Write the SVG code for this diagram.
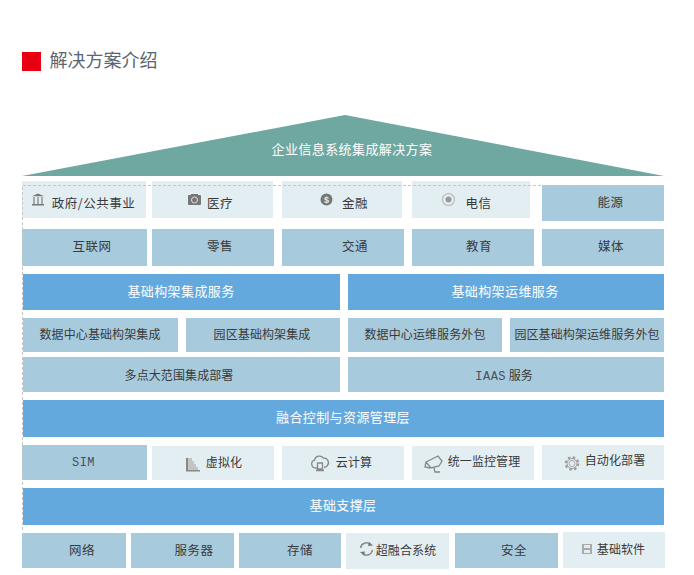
<svg xmlns="http://www.w3.org/2000/svg" width="694" height="575" viewBox="0 0 694 575">
<style>
text{font-family:"Noto Sans CJK SC","Liberation Sans",sans-serif;font-size:12px;fill:#3a3a3a;text-anchor:middle}
.m{fill:#a8cadd}.p{fill:#e3eef3}.b{fill:#63a9dd}
.w{fill:#fff;font-size:13px;letter-spacing:.4px}
.t{font-size:12px;letter-spacing:.1px}
.n{font-size:12.5px;letter-spacing:.5px}
.c{font-family:"Liberation Mono",monospace;font-size:12px;fill:#4a4f58;letter-spacing:.5px}
.i{fill:none;stroke:#888;stroke-width:1.3}
.f{fill:#777}
.d{fill:none;stroke:#c6c6c6;stroke-dasharray:3 2}
</style>
<rect x="22" y="52" width="19" height="19" fill="#e60012"/>
<text x="103.500" y="67" style="font-size:18px;fill:#5a6670;font-family:'Noto Sans CJK SC',sans-serif">解决方案介绍</text>
<g id="top"><polygon points="22,176 345,115 664,176" fill="#6fa8a0"/><text class="w" x="352" y="154">企业信息系统集成解决方案</text></g>
<g id="n-gov"><rect class="p" x="22" y="181" width="124" height="37"/><path class="f" d="M38 193.500l6 2.700h-12zM32 204h12v1.500h-12z"/><path class="i" d="M34 197v7M38 197v7M42 197v7"/><text class="n" x="93.500" y="208">政府/公共事业</text></g>
<g id="n-med"><rect class="p" x="152" y="181" width="121" height="37"/><rect class="f" x="188" y="195" width="13" height="10" rx="1"/><rect class="f" x="191" y="194" width="7" height="2"/><circle cx="194.500" cy="200" r="3" fill="none" stroke="#ddd"/><text class="n" x="220" y="208">医疗</text></g>
<g id="n-fin"><rect class="p" x="282" y="181" width="120" height="37"/><circle class="f" cx="326.500" cy="199.500" r="6"/><text x="326.500" y="203" style="font-size:9px;fill:#e3eef3;font-weight:700;font-family:'Liberation Sans',sans-serif">$</text><text class="n" x="355" y="208">金融</text></g>
<g id="n-tel"><rect class="p" x="412" y="181" width="118" height="37"/><circle cx="448.500" cy="199.500" r="6" fill="none" stroke="#bbb" stroke-width="1.200"/><circle class="f" cx="448.500" cy="199.500" r="3" style="fill:#999"/><text class="n" x="478.500" y="208">电信</text></g>
<g id="n-energy"><rect class="m" x="542" y="185" width="122" height="36"/><text class="n" x="610.500" y="207">能源</text></g>
<g id="n-net"><rect class="m" x="22" y="229" width="125" height="37"/><text class="n" x="92" y="251">互联网</text></g>
<g id="n-retail"><rect class="m" x="152" y="229" width="122" height="37"/><text class="n" x="220" y="251">零售</text></g>
<g id="n-traffic"><rect class="m" x="282" y="229" width="122" height="37"/><text class="n" x="355" y="251">交通</text></g>
<g id="n-edu"><rect class="m" x="412" y="229" width="122" height="37"/><text class="n" x="479" y="251">教育</text></g>
<g id="n-media"><rect class="m" x="542" y="229" width="122" height="37"/><text class="n" x="611" y="251">媒体</text></g>
<g id="n-infra1"><rect class="b" x="23" y="274" width="317" height="36"/><text class="w" x="181" y="296">基础构架集成服务</text></g>
<g id="n-infra2"><rect class="b" x="348" y="274" width="316" height="36"/><text class="w" x="505" y="296">基础构架运维服务</text></g>
<g id="n-dc1"><rect class="m" x="23" y="318" width="155" height="34"/><text class="t" x="100" y="339">数据中心基础构架集成</text></g>
<g id="n-park1"><rect class="m" x="186" y="318" width="154" height="34"/><text class="t" x="262" y="339">园区基础构架集成</text></g>
<g id="n-dc2"><rect class="m" x="348" y="318" width="154" height="34"/><text class="t" x="425" y="339">数据中心运维服务外包</text></g>
<g id="n-park2"><rect class="m" x="510" y="318" width="154" height="34"/><text class="t" x="587" y="339">园区基础构架运维服务外包</text></g>
<g id="n-multi"><rect class="m" x="23" y="357" width="317" height="35"/><text class="t" x="179" y="380">多点大范围集成部署</text></g>
<g id="n-iaas"><rect class="m" x="348" y="357" width="316" height="35"/><text x="504" y="380"><tspan class="c">IAAS</tspan> 服务</text></g>
<g id="n-ctrl"><rect class="b" x="23" y="400" width="641" height="37"/><text class="w" x="343" y="422">融合控制与资源管理层</text></g>
<g id="n-sim"><rect class="m" x="22" y="445" width="125" height="35"/><text class="c" x="83.500" y="466">SIM</text></g>
<g id="n-virt"><rect class="p" x="152" y="446" width="122" height="34"/><path d="M186 458h2v12h12v1.500h-14z" fill="#888"/><path d="M188 458h4v3h2v3h2v3h2v3h-10z" fill="#c4c4c4"/><text class="t" x="224" y="467">虚拟化</text></g>
<g id="n-cloud"><rect class="p" x="282" y="446" width="122" height="34"/><path class="i" d="M317 468h-1.500a4 4 0 0 1-1-7.800a5 5 0 0 1 9-2a4.500 4.500 0 0 1 3.500 7.800q-1 1-3 1.500"/><path class="i" d="M317.500 463h5v6h-5zM316 470.500h8"/><text class="t" x="354" y="467">云计算</text></g>
<g id="n-mon"><rect class="p" x="412" y="446" width="122" height="34"/><path class="i" d="M426 462l12-6l4 5l-3 5l-8 2zM426 462l-1 5l5 1M434 468l1 4h5"/><text class="t" x="484" y="466">统一监控管理</text></g>
<g id="n-auto"><rect class="p" x="542" y="445" width="122" height="35"/><circle cx="572" cy="463.500" r="6.300" fill="none" stroke="#999" stroke-width="2" stroke-dasharray="2.500 2.450"/><circle cx="572" cy="463.500" r="5" fill="none" stroke="#999"/><circle cx="572" cy="463.500" r="3" fill="none" stroke="#aaa"/><text class="t" x="615" y="465">自动化部署</text></g>
<g id="n-base"><rect class="b" x="23" y="488" width="641" height="37"/><text class="w" x="343" y="510">基础支撑层</text></g>
<g id="n-net2"><rect class="m" x="22" y="533" width="104" height="35"/><text class="n" x="82" y="555">网络</text></g>
<g id="n-srv"><rect class="m" x="131" y="533" width="103" height="35"/><text class="n" x="194" y="555">服务器</text></g>
<g id="n-store"><rect class="m" x="239" y="533" width="102" height="35"/><text class="n" x="300" y="555">存储</text></g>
<g id="n-hci"><rect class="p" x="346" y="533" width="103" height="36"/><path class="i" d="M360.500 548a6 6 0 0 1 10-3.500M372.500 550a6 6 0 0 1-10 3.500" style="stroke-width:1.500"/><path class="f" d="M369 542l4 3.500l-5 0.500zM364 555.500l-4-3.500l5-0.500z"/><text class="t" x="406" y="555">超融合系统</text></g>
<g id="n-sec"><rect class="m" x="455" y="533" width="103" height="35"/><text class="n" x="514" y="555">安全</text></g>
<g id="n-soft"><rect class="p" x="563" y="532" width="102" height="36"/><path d="M582 544h10v10h-10z" fill="#aaa"/><path d="M584 545h6v3h-6zM584 550h6v3h-6z" fill="#e3eef3"/><text class="t" x="621" y="554">基础软件</text></g>
<g id="connectors"><path class="d" d="M22.500 530V185.500H664"/></g>
</svg>
